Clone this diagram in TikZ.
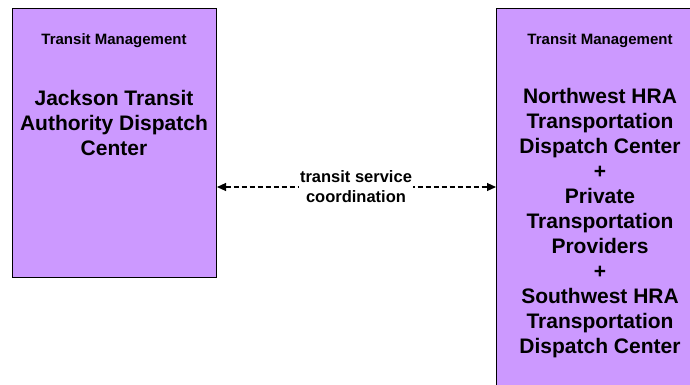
\documentclass[tikz,border=0pt]{standalone}
\usepackage{fontspec}
\setmainfont{Liberation Sans}
\usetikzlibrary{arrows.meta}
\definecolor{boxfill}{HTML}{CC99FF}
\tikzset{
  box/.style={draw=black, line width=1pt, fill=boxfill, rectangle, inner sep=0pt, anchor=north west},
  ttl/.style={font=\fontsize{15}{17}\selectfont\bfseries, align=center, inner sep=0pt},
  big/.style={font=\fontsize{21}{25}\selectfont\bfseries, align=center, inner sep=0pt},
  lbl/.style={font=\fontsize{16.5}{20}\selectfont\bfseries, align=center, fill=white, inner sep=1pt},
  conn/.style={dashed, dash pattern=on 5pt off 3pt, line width=1.1pt, {Triangle[length=9pt,width=8pt]}-{Triangle[length=9pt,width=8pt]}}
}
\begin{document}
\begin{tikzpicture}[x=1pt,y=-1pt]
\useasboundingbox (0,0) rectangle (690,384);
\begin{scope}
\clip (0,0) rectangle (690,384);
\node[box, minimum width=204pt, minimum height=269pt] (L) at (12,8) {};
\node[box, minimum width=208pt, minimum height=400pt] (R) at (496,8) {};
\node[ttl] (Lt) at (114,40.5) {Transit Management};
\node[big] (Lb) at (114,123) {Jackson Transit\\Authority Dispatch\\Center};
\node[ttl] (Rt) at (600,40.5) {Transit Management};
\node[big] (Rb) at (600,223) {Northwest HRA\\Transportation\\Dispatch Center\\+\\Private\\Transportation\\Providers\\+\\Southwest HRA\\Transportation\\Dispatch Center};
\coordinate (a) at (356,187);
\draw[conn] (L.east |- a) -- (R.west |- a);
\node[lbl] (M) at (356,186.5) {transit service\\coordination};
\end{scope}
\end{tikzpicture}
\end{document}
